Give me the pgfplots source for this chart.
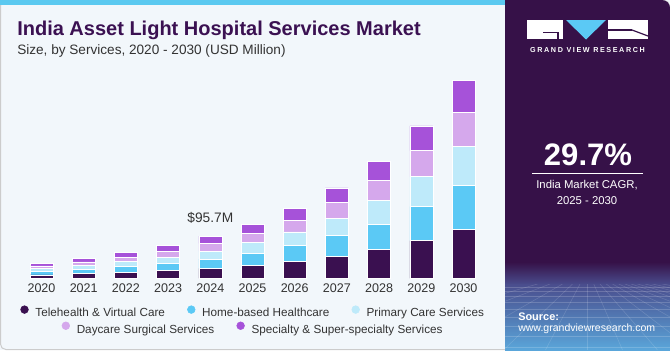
\documentclass[border=0pt]{standalone}
\usepackage{fontspec}
\setmainfont{Liberation Sans}
\newfontfamily\gvrfont[LetterSpace=22]{Liberation Sans}
\usepackage{pgfplots}
\usepackage{pgfplotstable}
\pgfplotsset{compat=1.18}
\definecolor{c1}{HTML}{3A1050}
\definecolor{c2}{HTML}{5BC9F5}
\definecolor{c3}{HTML}{BEEAFA}
\definecolor{c4}{HTML}{D5A8EC}
\definecolor{c5}{HTML}{A652D9}
\definecolor{panel}{HTML}{361148}
\definecolor{bgc}{HTML}{F2F7FB}
\definecolor{titlec}{HTML}{3B1152}
\definecolor{txt}{HTML}{333333}
\definecolor{strip}{HTML}{5BC9F0}
\definecolor{midb}{HTML}{4A4E8E}
\definecolor{lowb}{HTML}{5AA6DA}
\pgfplotstableread{
idx tele home prim day spec
0 7.5 8.4 5.9 6.1 6.1
1 10.4 10.6 8.4 7.5 7.5
2 13.6 12.7 11.3 10.0 10.4
3 17.2 16.7 14.3 12.9 12.7
4 22.6 21.0 18.1 17.4 16.6
5 29.4 27.1 24.0 21.3 21.0
6 38.5 35.3 31.0 27.1 26.5
7 49.8 46.6 39.4 35.3 33.3
8 65.6 57.2 53.6 45.2 43.7
9 85.1 76.9 67.9 58.8 55.9
10 110.8 100.2 88.2 76.2 73.1
}\datatable
\pgfplotsset{dotleg/.style={legend image code/.code={\fill[#1] (0pt,3.1pt) circle (2.9pt);}}}
\begin{document}
\begin{tikzpicture}
\begin{scope}[x=0.75pt,y=-0.75pt]
\useasboundingbox (0,0) rectangle (670,350);
\fill[bgc] (0,0) rectangle (670,350);
\draw[color=black!20, line width=0.75pt, rounded corners=4pt] (0.5,0.5) rectangle (669.5,349.5);
\fill[strip] (0,0) rectangle (505,5);
\fill[panel] (505,350) -- (505,0) [rounded corners=6pt]-- (670,0) [sharp corners]-- (670,350) -- cycle;
\shade[top color=panel, bottom color=midb] (505,262) rectangle (670,285);
\shade[top color=midb, bottom color=lowb] (505,284.8) rectangle (670,350);
\begin{scope}
\clip (505,284) rectangle (670,350);
\foreach \yy in {287,291,296,302,309,317,326,336,347}
  \draw[white, opacity=0.18, line width=0.4pt] (505,\yy) -- (670,\yy);
\foreach \xx in {-200,-150,-100,-60,-30,0,25,50,75,100,125,150,175,200,230,260,300,350}
  \draw[white, opacity=0.15, line width=0.4pt] (587.5+\xx*0.25,284) -- (587.5+\xx*1.4,350);
\end{scope}
% logo
\fill[white] (527,20) rectangle (563,39);
\draw[panel, line width=1pt] (543,32.3) -- (558,32.3) -- (558,39);
\fill[c2] (566,20) -- (606,20) -- (586,39.5) -- cycle;
\fill[white] (608,20) rectangle (648,39);
\draw[panel, line width=0.9pt] (632,30) -- (648,36);
\draw[panel, line width=0.9pt] (608,30) -- (632,30);
\node[anchor=base, inner sep=0, text=white, font=\gvrfont\bfseries\fontsize{5.4}{6}\selectfont] at (587.5,52.7) {GRAND VIEW RESEARCH};
\node[anchor=base, inner sep=0, text=white, font=\bfseries\fontsize{23.3}{26}\selectfont] at (588,165.7) {29.7\%};
\draw[white, line width=0.75pt] (532,173.3) -- (643,173.3);
\node[anchor=base, inner sep=0, text=white, font=\fontsize{8.5}{10}\selectfont] at (587,188.7) {India Market CAGR,};
\node[anchor=base, inner sep=0, text=white, font=\fontsize{8.5}{10}\selectfont] at (587,204.3) {2025 - 2030};
\node[anchor=base west, inner sep=0, text=white, font=\bfseries\fontsize{8.2}{10}\selectfont] at (518,320) {Source:};
\node[anchor=base west, inner sep=0, text=white, font=\fontsize{7.9}{10}\selectfont] at (518,331) {www.grandviewresearch.com};
% titles
\node[anchor=base west, inner sep=0, text=titlec, font=\bfseries\fontsize{15}{18}\selectfont] at (17,35) {India Asset Light Hospital Services Market};
\node[anchor=base west, inner sep=0, text=txt, font=\fontsize{10.2}{12}\selectfont] at (17,54.3) {Size, by Services, 2020 - 2030 (USD Million)};
\end{scope}
\begin{axis}[
  at={(15.3pt,-208.725pt)}, anchor=south west,
  scale only axis, width=348.15pt, height=165.75pt,
  xmin=-0.5, xmax=10.5, ymin=0, ymax=500,
  ybar stacked, bar width=17.25pt,
  axis line style={draw=none}, tick style={draw=none},
  ytick=\empty, xtick={0,...,10},
  xticklabels={2020,2021,2022,2023,2024,2025,2026,2027,2028,2029,2030},
  xticklabel style={font=\fontsize{9.4}{11}\selectfont, text=txt, anchor=base, yshift=-10.6pt, inner sep=0pt},
  clip=false,
  legend style={at={(0.5,-0.155)}, anchor=center, draw=none, fill=none,
    font=\fontsize{8.8}{10}\selectfont, text=txt,
    legend columns=3, column sep=0pt,
    /tikz/every odd column/.append style={column sep=4.6pt},
    /tikz/every even column/.append style={column sep=16.1pt},
    nodes={inner sep=0.5pt}},
]
\addplot[fill=c1, draw=white, line width=0.4pt, forget plot] table[x=idx, y=tele] {\datatable};
\addplot[fill=c2, draw=white, line width=0.4pt, forget plot] table[x=idx, y=home] {\datatable};
\addplot[fill=c3, draw=white, line width=0.4pt, forget plot] table[x=idx, y=prim] {\datatable};
\addplot[fill=c4, draw=white, line width=0.4pt, forget plot] table[x=idx, y=day] {\datatable};
\addplot[fill=c5, draw=white, line width=0.4pt, forget plot] table[x=idx, y=spec] {\datatable};
\addlegendimage{dotleg=c1}\addlegendentry{Telehealth \& Virtual Care}
\addlegendimage{dotleg=c2}\addlegendentry{Home-based Healthcare}
\addlegendimage{dotleg=c3}\addlegendentry{Primary Care Services}
\node[anchor=base, inner sep=0, text=txt, font=\fontsize{10.3}{12}\selectfont] at (axis cs:4,95.7) [yshift=10pt] {\$95.7M};
\end{axis}
\begin{axis}[
  at={(15.3pt,-208.725pt)}, anchor=south west,
  scale only axis, width=348.15pt, height=165.75pt,
  xmin=-0.5, xmax=10.5, ymin=0, ymax=500, hide axis,
  legend style={at={(0.5,-0.228)}, anchor=center, draw=none, fill=none,
    font=\fontsize{8.8}{10}\selectfont, text=txt,
    legend columns=2, column sep=0pt,
    /tikz/every odd column/.append style={column sep=4.6pt},
    /tikz/every even column/.append style={column sep=16.1pt},
    nodes={inner sep=0.5pt}},
]
\addplot[draw=none, forget plot] coordinates {(0,0)};
\addlegendimage{dotleg=c4}\addlegendentry{Daycare Surgical Services}
\addlegendimage{dotleg=c5}\addlegendentry{Specialty \& Super-specialty Services}
\end{axis}
\end{tikzpicture}
\end{document}
